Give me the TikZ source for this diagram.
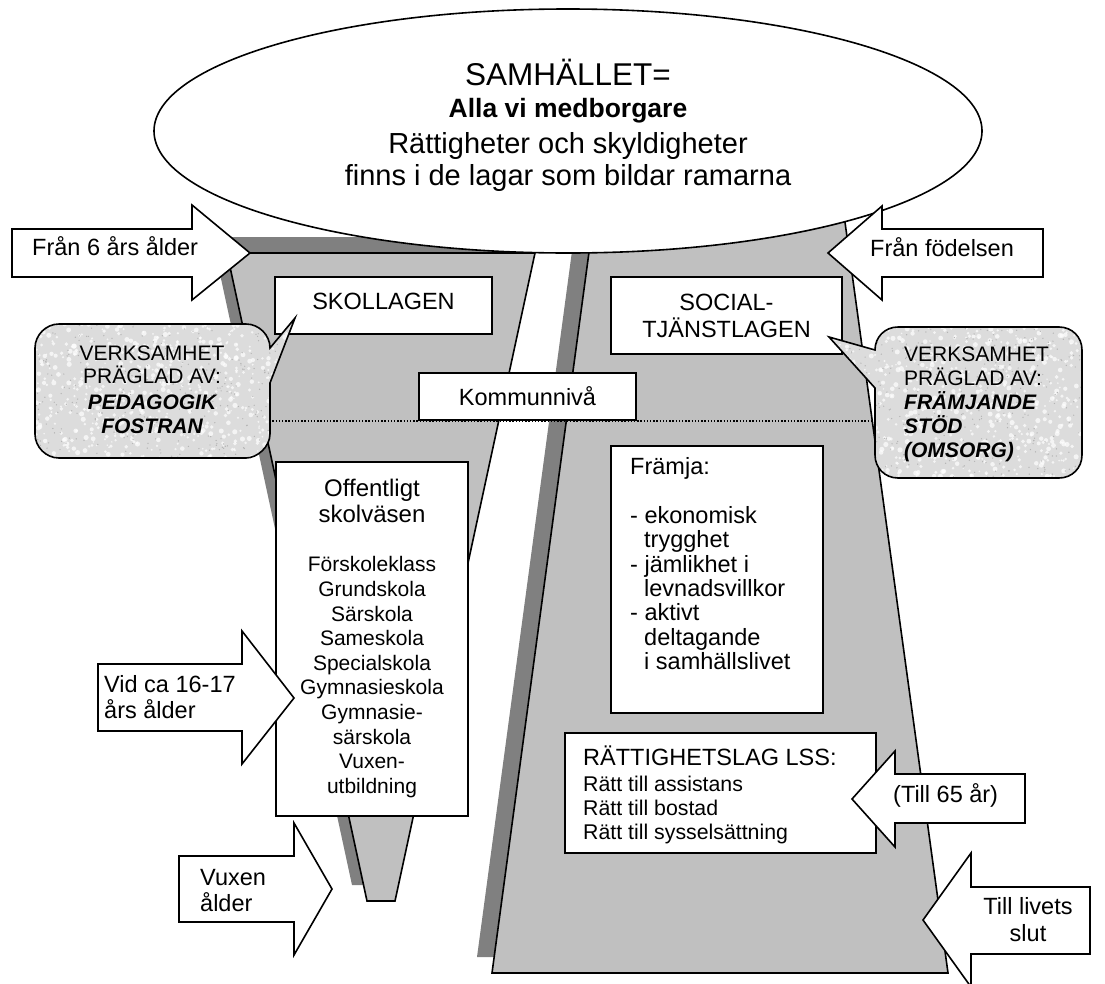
\documentclass[tikz,border=0pt]{standalone}
\usepackage{fontspec}
\setmainfont{Liberation Sans}
\usetikzlibrary{shapes.geometric}
\definecolor{funnelgray}{HTML}{C0C0C0}
\definecolor{shadegray}{HTML}{808080}
\definecolor{stonegray}{HTML}{DCDCDC}
\definecolor{grain}{HTML}{B4B4B4}

% outlines of the two speech balloons
\def\leftballoon{(59,324) -- (246,324) .. controls (259,324) and (270,335) .. (270,348)
  -- (295,318) -- (270,383) -- (270,434) .. controls (270,447) and (257,458) .. (246,458)
  -- (59,458) .. controls (46,458) and (35,447) .. (35,434) -- (35,348)
  .. controls (35,335) and (46,324) .. (59,324) -- cycle}
\def\rightballoon{(898,327) -- (1059,327) .. controls (1072,327) and (1082,337) .. (1082,350)
  -- (1082,455) .. controls (1082,468) and (1072,478) .. (1059,478) -- (898,478)
  .. controls (885,478) and (875,468) .. (875,455) -- (875,388) -- (829,337) -- (875,350)
  .. controls (875,337) and (885,327) .. (898,327) -- cycle}

\begin{document}
\begin{tikzpicture}[x=1pt, y=-1pt,
  outline/.style={draw=black, line width=1.6pt, line join=miter},
  boxnode/.style={outline, fill=white, rectangle, inner sep=0pt},
  blockarrow/.style={outline, fill=white},
  lbl/.style={inner sep=0pt, font=\fontsize{23.5}{28}\selectfont},
  smalllbl/.style={inner sep=0pt, font=\fontsize{21}{25}\selectfont},
  balloontext/.style={inner sep=0pt, font=\fontsize{21}{25}\selectfont},
]
\useasboundingbox (0,0) rectangle (1105,983);

% funnel shadows
\fill[shadegray] (212,237) -- (520,237) -- (380,885) -- (352,885) -- cycle;
\fill[shadegray] (579,199) -- (829,199) -- (933,957) -- (477,957) -- cycle;

% the two funnels
\draw[outline, fill=funnelgray] (227,253) -- (535,253) -- (395,901) -- (367,901) -- cycle;
\draw[outline, fill=funnelgray] (594,215) -- (844,215) -- (948,973) -- (492,973) -- cycle;

% society
\node[ellipse, draw=black, line width=1.6pt, fill=white, minimum width=828pt,
      minimum height=244pt, inner sep=0pt] (samhallet) at (568,131) {};
\node[inner sep=0pt, anchor=base, font=\fontsize{31.5}{36}\selectfont] (s1) at (568,85) {SAMHÄLLET=};
\node[inner sep=0pt, anchor=base, font=\fontsize{26.5}{30}\selectfont\bfseries] (s2) at (568,117) {Alla vi medborgare};
\node[inner sep=0pt, anchor=base, font=\fontsize{29}{33}\selectfont] (s3) at (568,153) {Rättigheter och skyldigheter};
\node[inner sep=0pt, anchor=base, font=\fontsize{29}{33}\selectfont] (s4) at (568,185) {finns i de lagar som bildar ramarna};

% municipal level
\draw[line width=1.4pt, dash pattern=on 1.4pt off 1.8pt] (250,421) -- (880,421);

% law boxes
\node[boxnode, minimum width=217pt, minimum height=57pt] (skollagen) at (383.5,305.5) {};
\node[lbl, anchor=base] (skollagentext) at (383.5,309) {SKOLLAGEN};
\node[boxnode, minimum width=231pt, minimum height=77pt] (sol) at (726.5,315.5) {};
\node[lbl, anchor=base] (soltext1) at (726.5,310) {SOCIAL-};
\node[lbl, anchor=base] (soltext2) at (726.5,337) {TJÄNSTLAGEN};
\node[boxnode, minimum width=217pt, minimum height=47pt] (kommun) at (527.5,396.5) {};
\node[lbl, anchor=base] (kommuntext) at (527.5,405) {Kommunnivå};

% school system
\node[boxnode, minimum width=192pt, minimum height=354pt] (skolvasen) at (372,639) {};
\node[inner sep=0pt, anchor=base, font=\fontsize{24}{28}\selectfont] (sv1) at (372,496) {Offentligt};
\node[inner sep=0pt, anchor=base, font=\fontsize{24}{28}\selectfont] (sv2) at (372,522) {skolväsen};
\foreach \t/\yy [count=\k] in {Förskoleklass/571, Grundskola/596, Särskola/621,
    Sameskola/645, Specialskola/670, Gymnasieskola/694, Gymnasie-/719,
    särskola/744, Vuxen-/768, utbildning/793}
  \node[smalllbl, anchor=base] (skolform\k) at (372,\yy) {\t};

% social services goals
\node[boxnode, minimum width=212pt, minimum height=267pt] (framja) at (717,579.5) {};
\node[lbl, anchor=base west] (fr0) at (630,474) {Främja:};
\node[lbl, anchor=base west] (fr1) at (630,523) {- ekonomisk};
\node[lbl, anchor=base west] (fr2) at (644,547) {trygghet};
\node[lbl, anchor=base west] (fr3) at (630,572) {- jämlikhet i};
\node[lbl, anchor=base west] (fr4) at (644,596) {levnadsvillkor};
\node[lbl, anchor=base west] (fr5) at (630,620) {- aktivt};
\node[lbl, anchor=base west] (fr6) at (644,645) {deltagande};
\node[lbl, anchor=base west] (fr7) at (644,669) {i samhällslivet};

% LSS
\node[boxnode, minimum width=311pt, minimum height=120pt] (lss) at (720.5,793) {};
\node[inner sep=0pt, anchor=base west, font=\fontsize{23.5}{27}\selectfont] (lss0) at (583,765) {RÄTTIGHETSLAG LSS:};
\node[inner sep=0pt, anchor=base west, font=\fontsize{21.3}{24}\selectfont] (lss1) at (583,791) {Rätt till assistans};
\node[inner sep=0pt, anchor=base west, font=\fontsize{21.3}{24}\selectfont] (lss2) at (583,815) {Rätt till bostad};
\node[inner sep=0pt, anchor=base west, font=\fontsize{21.3}{24}\selectfont] (lss3) at (583,839) {Rätt till sysselsättning};

% speech balloons with a stone texture
\fill[stonegray] \leftballoon;
\begin{scope}
  \clip \leftballoon;
  \pgfmathsetseed{11}
  \foreach \i in {1,...,650}{
    \pgfmathsetmacro\px{35+260*rnd}
    \pgfmathsetmacro\py{318+140*rnd}
    \pgfmathsetmacro\pr{0.8+1.8*rnd}
    \fill[white, opacity=0.7] (\px,\py) circle[radius=\pr pt];
  }
  \foreach \i in {1,...,350}{
    \pgfmathsetmacro\px{35+260*rnd}
    \pgfmathsetmacro\py{318+140*rnd}
    \fill[grain] (\px,\py) circle[radius=0.7pt];
  }
\end{scope}
\draw[outline] \leftballoon;
\node[balloontext, anchor=base] (lb1) at (152,360) {VERKSAMHET};
\node[balloontext, anchor=base] (lb2) at (152,383) {PRÄGLAD AV:};
\node[balloontext, anchor=base, font=\fontsize{21}{25}\selectfont\bfseries\itshape] (lb3) at (152,409) {PEDAGOGIK};
\node[balloontext, anchor=base, font=\fontsize{21}{25}\selectfont\bfseries\itshape] (lb4) at (152,433) {FOSTRAN};

\fill[stonegray] \rightballoon;
\begin{scope}
  \clip \rightballoon;
  \pgfmathsetseed{23}
  \foreach \i in {1,...,650}{
    \pgfmathsetmacro\px{829+253*rnd}
    \pgfmathsetmacro\py{327+151*rnd}
    \pgfmathsetmacro\pr{0.8+1.8*rnd}
    \fill[white, opacity=0.7] (\px,\py) circle[radius=\pr pt];
  }
  \foreach \i in {1,...,350}{
    \pgfmathsetmacro\px{829+253*rnd}
    \pgfmathsetmacro\py{327+151*rnd}
    \fill[grain] (\px,\py) circle[radius=0.7pt];
  }
\end{scope}
\draw[outline] \rightballoon;
\node[balloontext, anchor=base west] (rb1) at (904,361) {VERKSAMHET};
\node[balloontext, anchor=base west] (rb2) at (904,385) {PRÄGLAD AV:};
\node[balloontext, anchor=base west, font=\fontsize{21}{25}\selectfont\bfseries\itshape] (rb3) at (904,409) {FRÄMJANDE};
\node[balloontext, anchor=base west, font=\fontsize{21}{25}\selectfont\bfseries\itshape] (rb4) at (904,433) {STÖD};
\node[balloontext, anchor=base west, font=\fontsize{21}{25}\selectfont\bfseries\itshape] (rb5) at (904,457) {(OMSORG)};

% age arrows
\draw[blockarrow] (12,229) -- (192,229) -- (192,205) -- (250,253) -- (192,300) -- (192,277) -- (12,277) -- cycle;
\node[lbl, anchor=base west] (a1) at (32,255) {Från 6 års ålder};

\draw[blockarrow] (1043,229) -- (882,229) -- (882,206) -- (828,253) -- (882,300) -- (882,277) -- (1043,277) -- cycle;
\node[lbl, anchor=base west] (a2) at (870,256) {Från födelsen};

\draw[blockarrow] (98,664) -- (242,664) -- (242,631) -- (294,698) -- (242,764) -- (242,731) -- (98,731) -- cycle;
\node[lbl, anchor=base west] (a3a) at (104,692) {Vid ca 16-17};
\node[lbl, anchor=base west] (a3b) at (104,718) {års ålder};

\draw[blockarrow] (179,856) -- (294,856) -- (294,823) -- (332,889) -- (294,955) -- (294,922) -- (179,922) -- cycle;
\node[lbl, anchor=base west] (a4a) at (200,885) {Vuxen};
\node[lbl, anchor=base west] (a4b) at (200,911) {ålder};

\draw[blockarrow] (1025,774) -- (895,774) -- (895,751) -- (852,799) -- (895,847) -- (895,823) -- (1025,823) -- cycle;
\node[lbl, anchor=base west] (a5) at (893,802) {(Till 65 år)};

\draw[blockarrow] (1090,887) -- (971,887) -- (971,853) -- (923,920) -- (971,987) -- (971,954) -- (1090,954) -- cycle;
\node[lbl, anchor=base] (a6a) at (1028,914) {Till livets};
\node[lbl, anchor=base] (a6b) at (1028,941) {slut};
\end{tikzpicture}
\end{document}
